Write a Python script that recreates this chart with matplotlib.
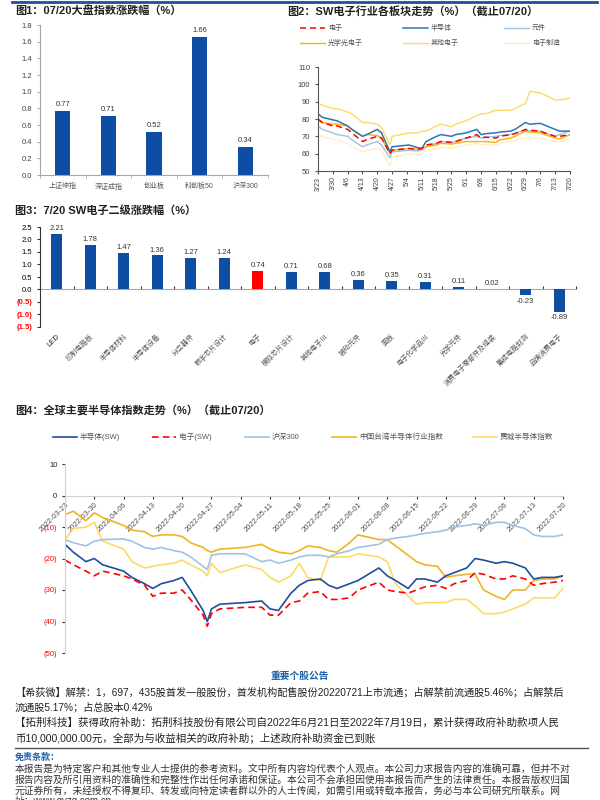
import numpy as np
import pandas as pd
import matplotlib
matplotlib.use('Agg')
import matplotlib.pyplot as plt
from matplotlib.lines import Line2D
from matplotlib.ticker import FormatStrFormatter

plt.rcParams['font.family'] = ['Liberation Sans', 'Noto Sans CJK SC', 'DejaVu Sans']
plt.rcParams['axes.unicode_minus'] = False

# ---------------- data ----------------
# fig 1
idx_names = ['上证综指', '深证成指', '创业板', '科创板50', '沪深300']
idx_chg = [0.77, 0.71, 0.52, 1.66, 0.34]

# fig 2
sw_dates = ['03-23', '03-25', '03-30', '04-01', '04-06', '04-08', '04-13', '04-15', '04-20', '04-22',
            '04-26', '04-27', '05-05', '05-09', '05-11', '05-13', '05-18', '05-20', '05-25', '05-27',
            '06-01', '06-06', '06-08', '06-10', '06-15', '06-17', '06-22', '06-24', '06-29', '07-01',
            '07-06', '07-08', '07-13', '07-15', '07-20']
sw_dz = [80, 78, 76, 76, 74, 72, 67, 68, 70, 69, 60, 62, 63, 62.5, 63, 65, 66, 67, 66.5, 67,
         69, 71, 69, 69.5, 69, 70, 71, 71.5, 74, 73.5, 73, 72, 70, 70, 71]
sw_bdt = [83, 81, 79.5, 79, 76, 74, 70, 71, 74, 72, 61, 64, 65, 63.5, 63, 67, 70, 71, 70, 71,
          72, 74, 71, 71.5, 72, 72.5, 73, 74, 78, 77, 77.5, 76.5, 74, 73, 73]
sw_yj = [76, 74, 72, 71, 70, 68, 64, 65, 67, 65, 57.5, 61, 62, 61.5, 62, 64, 66, 67, 66.5, 67,
         69, 70, 69, 69.5, 70, 70.5, 71, 72, 73.5, 73, 73, 72, 70, 71, 73]
sw_gx = [79, 78, 77, 77, 76, 74, 70, 71, 70.5, 69, 60, 62, 63, 62.5, 63, 64, 65, 66, 65.5, 66,
         67, 67, 67, 67, 66.5, 68, 69, 70, 73, 72.5, 72, 71, 69, 68.5, 71]
sw_qt = [89, 88, 86, 86, 84, 83, 78, 78, 77, 75, 65, 70, 72, 72, 73, 73, 76, 77, 75.5, 77,
         79, 82, 83, 83, 85, 85, 85, 86, 89, 96, 95, 94, 91, 91, 92]
sw_zz = [71, 70, 68, 68, 66, 64, 61, 62, 63, 62, 53, 58, 60, 59.5, 60, 62, 63, 63.5, 63, 63.5,
         65, 66, 65, 65.5, 65, 66, 67, 67.5, 69, 69, 69, 68.5, 67, 67, 68]

# fig 3
sub_names = ['LED', '印制电路板', '半导体材料', '半导体设备', '分立器件', '数字芯片设计', '电子',
             '模拟芯片设计', '其他电子Ⅲ', '被动元件', '面板', '电子化学品Ⅲ', '光学元件',
             '消费电子零部件及组装', '集成电路封测', '品牌消费电子']
sub_chg = [2.21, 1.78, 1.47, 1.36, 1.27, 1.24, 0.74, 0.71, 0.68, 0.36, 0.35, 0.31, 0.11, 0.02, -0.23, -0.89]

# fig 4
g_dates = ['03-23', '03-25', '03-28', '03-30', '04-01', '04-06', '04-08', '04-11', '04-13', '04-15',
           '04-18', '04-20', '04-22', '04-25', '04-26', '04-27', '04-29', '05-05', '05-09', '05-11',
           '05-13', '05-16', '05-18', '05-20', '05-23', '05-25', '05-27', '05-30', '06-01', '06-06',
           '06-08', '06-10', '06-13', '06-15', '06-17', '06-20', '06-22', '06-24', '06-27', '06-29',
           '07-01', '07-04', '07-06', '07-08', '07-11', '07-13', '07-15', '07-18', '07-20']
g_bdt = [-15.5, -18, -21, -20, -22, -24, -26, -28, -29.5, -28, -27, -26, -30, -36.5, -40,
         -36, -34.5, -34, -33.5, -36, -36.5, -31, -28.5, -27, -26.5, -28.5, -29.5, -28, -27, -23,
         -25.5, -27, -29.5, -26.5, -26.5, -27.5, -25.5, -24.5, -23, -20, -20.5, -21.5, -21, -21.5,
         -23, -26.5, -26, -26, -25.5]
g_dz = [-20.5, -22, -24, -25.5, -24, -25.5, -26.5, -28.5, -32, -31, -31, -30, -33, -38, -41.5,
        -37.5, -36, -35.5, -35.5, -38, -38, -34, -33.5, -31, -30.5, -33, -33, -32.5, -30, -27.5,
        -30, -30.5, -31, -30, -29, -28.5, -29.5, -28, -27, -24.5, -25, -26.5, -26.5, -25.5,
        -26.5, -28.5, -28, -27.5, -27]
g_hs300 = [-14, -15, -16, -14.5, -14, -13.8, -14.5, -16.5, -17, -16.5, -17.5, -18, -19.5, -22.5, -23.5,
           -19, -18.5, -18.5, -21, -20.5, -21.5, -20.5, -19.5, -19, -19, -19.5, -18.5, -17.5, -16.5, -15.5,
           -14, -13.5, -13, -12.5, -12, -11.5, -11, -10, -9.5, -9, -9.5, -8.5, -8.5, -9.5,
           -10.5, -12.5, -13, -13, -12.5]
g_tw = [-6, -5, -8, -5.5, -7, -9.5, -11, -11.5, -13, -12.5, -12.5, -13, -15, -16.5, -17.5,
        -18, -17, -16.5, -15.5, -17, -18, -18.5, -17.5, -16, -16.5, -17.5, -18, -15, -12.5, -14,
        -14, -16, -19, -21, -22, -22.5, -26, -25.5, -25, -25, -30, -32, -33, -30,
        -30, -27, -26.5, -26.5, -25.5]
g_sox = [-14, -10.5, -10, -8.5, -14.5, -17, -21, -23, -22.5, -22, -21.5, -20.5, -22, -24, -25.5,
         -21.5, -24.5, -22, -23.5, -26, -27.5, -25.5, -21.5, -26, -27, -19.5, -19.5, -19.5, -18.5, -19.5,
         -21, -28, -32, -34.5, -34, -34, -34, -33, -33, -35, -37.5, -37.5, -37, -36,
         -34.5, -32.5, -32.5, -32.5, -29.5]

# ---------------- helpers ----------------
W, H = 600, 800
fig = plt.figure(figsize=(6, 8), dpi=100)

def box(x0, y0, x1, y1):
    return [x0 / W, 1 - y1 / H, (x1 - x0) / W, (y1 - y0) / H]

def ftext(x, y, s, **kw):
    kw.setdefault('va', 'center')
    fig.text(x / W, 1 - y / H, s, **kw)

def fline(x0, x1, y, **kw):
    fig.add_artist(Line2D([x0 / W, x1 / W], [1 - y / H, 1 - y / H], **kw))

BLUE = '#0D4DA3'
GRAY = '#A6A6A6'
TXT = '#404040'

def clean(ax):
    for s in ['top', 'right']:
        ax.spines[s].set_visible(False)
    for s in ['left', 'bottom']:
        ax.spines[s].set_color(GRAY)
        ax.spines[s].set_linewidth(0.8)

fline(12, 597, 2, color='#1F4E9C', lw=2)

# ---------------- fig 1 ----------------
ftext(15, 11, '图1：07/20大盘指数涨跌幅（%）', fontsize=8, fontweight='bold', color='#222')
ax1 = fig.add_axes(box(40, 25, 268, 175))
x1 = np.arange(len(idx_names))
ax1.bar(x1, idx_chg, width=0.33, color=BLUE)
for xi, v in zip(x1, idx_chg):
    ax1.text(xi, v + 0.03, f'{v:.2f}', ha='center', va='bottom', fontsize=5.5, color='#333')
ax1.set_ylim(0, 1.8)
ax1.set_xlim(-0.5, 4.5)
ax1.set_yticks(np.arange(0, 1.81, 0.2))
ax1.yaxis.set_major_formatter(FormatStrFormatter('%.1f'))
ax1.set_xticks(x1)
ax1.set_xticklabels(idx_names, fontsize=5, color='#555')
ax1.set_xticks(np.arange(-0.5, 5, 1), minor=True)
ax1.tick_params(axis='x', which='major', length=0, pad=6)
ax1.tick_params(axis='x', which='minor', length=2, color=GRAY)
ax1.tick_params(axis='y', labelsize=5.5, length=2, color=GRAY, labelcolor=TXT)
clean(ax1)

# ---------------- fig 2 ----------------
ftext(287, 11, '图2：SW电子行业各板块走势（%）（截止07/20）', fontsize=8, fontweight='bold', color='#222')
d2 = pd.to_datetime(['2022-' + s for s in sw_dates])
ax2 = fig.add_axes(box(318, 67, 570, 171))
series2 = [
    ('电子制造', sw_zz, dict(color='#FFF0C2', lw=1.0)),
    ('其他电子', sw_qt, dict(color='#FFD966', lw=1.0)),
    ('元件', sw_yj, dict(color='#9DC3E6', lw=1.0)),
    ('光学光电子', sw_gx, dict(color='#F4B400', lw=1.0)),
    ('半导体', sw_bdt, dict(color='#2E75B6', lw=1.1)),
    ('电子', sw_dz, dict(color='#FF0000', lw=1.1, ls=(0, (4, 2.5)))),
]
for name, vals, st in series2:
    ax2.plot(d2, vals, **st)
ticks = pd.date_range('2022-03-23', '2022-07-20', freq='7D')
clean(ax2)
ax2.spines['left'].set_color('#555')
ax2.spines['bottom'].set_color('#555')
ax2.set_xlim(ticks[0], ticks[-1])
ax2.set_ylim(50, 110)
ax2.set_yticks(range(50, 111, 10))
ax2.set_xticks(ticks)
ax2.set_xticklabels([f'{t.month}/{t.day}' for t in ticks], rotation=90, fontsize=5, color=TXT)
ax2.tick_params(axis='x', length=2, color='#555', pad=2)
ax2.tick_params(axis='y', labelsize=5.5, length=2, color='#555', labelcolor=TXT)
st2 = {n: s for n, _, s in series2}
leg2 = [(['电子', '半导体', '元件'], 28), (['光学光电子', '其他电子', '电子制造'], 43)]
for row, yy in leg2:
    for name, xx in zip(row, [300, 403, 504]):
        fline(xx, xx + 25, yy, **st2[name])
        ftext(xx + 28, yy, name, fontsize=5, color='#555')

# ---------------- fig 3 ----------------
ftext(15, 210, '图3：7/20 SW电子二级涨跌幅（%）', fontsize=8, fontweight='bold', color='#222')
ax3 = fig.add_axes(box(40, 227, 576, 327))
x3 = np.arange(len(sub_names))
cols3 = ['#FF0000' if n == '电子' else BLUE for n in sub_names]
ax3.bar(x3, sub_chg, width=0.33, color=cols3)
for xi, v in zip(x3, sub_chg):
    if v >= 0:
        ax3.text(xi, v + 0.08, f'{v:.2f}', ha='center', va='bottom', fontsize=5.5, color='#333')
    else:
        ax3.text(xi, v - 0.1, f'{v:.2f}', ha='center', va='top', fontsize=5.5, color='#333')
for s in ['top', 'right', 'bottom']:
    ax3.spines[s].set_visible(False)
ax3.spines['left'].set_color('#333')
ax3.set_xlim(-0.5, len(sub_names) - 0.5)
ax3.set_ylim(-1.5, 2.5)
yt3 = np.arange(-1.5, 2.51, 0.5)
ax3.set_yticks(yt3)
ax3.set_yticklabels([f'({abs(v):.1f})' if v < 0 else f'{v:.1f}' for v in yt3])
for lab, v in zip(ax3.get_yticklabels(), yt3):
    if v < 0:
        lab.set_color('#FF0000')
        lab.set_fontweight('bold')
ax3.tick_params(axis='y', labelsize=5.5, length=2, color='#333')
ax3.set_xticks(x3)
ax3.set_xticklabels(sub_names, rotation=45, ha='right', rotation_mode='anchor', fontsize=5, color='#555')
ax3.get_xticklabels()[0].set_color('#222')
ax3.get_xticklabels()[0].set_fontsize(5.5)
ax3.tick_params(axis='x', length=0, pad=4)
sec3 = ax3.secondary_xaxis(1.5 / 4.0)
sec3.set_xticks(np.arange(-0.5, len(sub_names), 1))
sec3.tick_params(axis='x', length=2, direction='in', labeltop=False, labelbottom=False, color='#333')
sec3.spines['bottom'].set_color(GRAY)
sec3.spines['top'].set_color(GRAY)

# ---------------- fig 4 ----------------
ftext(15, 410, '图4：全球主要半导体指数走势（%）（截止07/20）', fontsize=8, fontweight='bold', color='#222')
d4 = pd.to_datetime(['2022-' + s for s in g_dates])
ax4 = fig.add_axes(box(65, 464, 563, 653))
series4 = [
    ('费城半导体指数', g_sox, dict(color='#FFD966', lw=1.2)),
    ('中国台湾半导体行业指数', g_tw, dict(color='#F0B323', lw=1.2)),
    ('沪深300', g_hs300, dict(color='#9DC3E6', lw=1.2)),
    ('半导体(SW)', g_bdt, dict(color='#1F4E9C', lw=1.2)),
    ('电子(SW)', g_dz, dict(color='#FF0000', lw=1.2, ls=(0, (4, 2.5)))),
]
for name, vals, st in series4:
    ax4.plot(d4, vals, **st)
for s in ['top', 'right']:
    ax4.spines[s].set_visible(False)
ax4.spines['bottom'].set_position(('data', 0))
ax4.spines['bottom'].set_color('#D0D0D0')
ax4.spines['left'].set_color('#D0D0D0')
ax4.set_xlim(ticks[0], ticks[-1])
ax4.set_ylim(-50, 10)
yt4 = list(range(-50, 11, 10))
ax4.set_yticks(yt4)
ax4.set_yticklabels([f'({abs(v)})' if v < 0 else f'{v}' for v in yt4])
for lab, v in zip(ax4.get_yticklabels(), yt4):
    lab.set_color('#FF0000' if v < 0 else '#222')
ax4.tick_params(axis='y', labelsize=5.5, length=2, color='#333')
ax4.set_xticks(ticks)
ax4.set_xticklabels([t.strftime('%Y-%m-%d') for t in ticks], rotation=45, ha='right',
                    rotation_mode='anchor', fontsize=5.5, color='#505050')
ax4.tick_params(axis='x', length=2, color='#333', pad=2)
st4 = {n: s for n, _, s in series4}
for name, xx in zip(['半导体(SW)', '电子(SW)', '沪深300', '中国台湾半导体行业指数', '费城半导体指数'],
                    [53, 152, 245, 332, 473]):
    fline(xx, xx + 24, 437, **st4[name])
    ftext(xx + 27, 437, name, fontsize=5.5, color='#555')

# ---------------- text ----------------
ftext(300, 676, '重要个股公告', fontsize=7, fontweight='bold', color='#1F5FA8', ha='center')
body = [
    (692, '【希荻微】解禁：1，697，435股首发一般股份，首发机构配售股份20220721上市流通；占解禁前流通股5.46%；占解禁后', 7.3),
    (707, '流通股5.17%；占总股本0.42%', 7.3),
    (723, '【拓荆科技】获得政府补助：拓荆科技股份有限公司自2022年6月21日至2022年7月19日，累计获得政府补助款项人民', 7.6),
    (738, '币10,000,000.00元，全部为与收益相关的政府补助；上述政府补助资金已到账', 7.6),
]
for yy, s, fs in body:
    ftext(15, yy, s, fontsize=fs, color='#222')
fline(15, 588, 748, color='#555', lw=1)
ftext(15, 757, '免责条款：', fontsize=6.5, fontweight='bold', color='#1F5FA8')
disc = [
    (769, '本报告是为特定客户和其他专业人士提供的参考资料。文中所有内容均代表个人观点。本公司力求报告内容的准确可靠，但并不对'),
    (780, '报告内容及所引用资料的准确性和完整性作出任何承诺和保证。本公司不会承担因使用本报告而产生的法律责任。本报告版权归国'),
    (791, '元证券所有，未经授权不得复印、转发或向特定读者群以外的人士传阅，如需引用或转载本报告，务必与本公司研究所联系。网'),
    (801, '址：www.gyzq.com.cn'),
]
for yy, s in disc:
    ftext(15, yy, s, fontsize=7.0, color='#333')

fig.savefig('out.png', dpi=100)
